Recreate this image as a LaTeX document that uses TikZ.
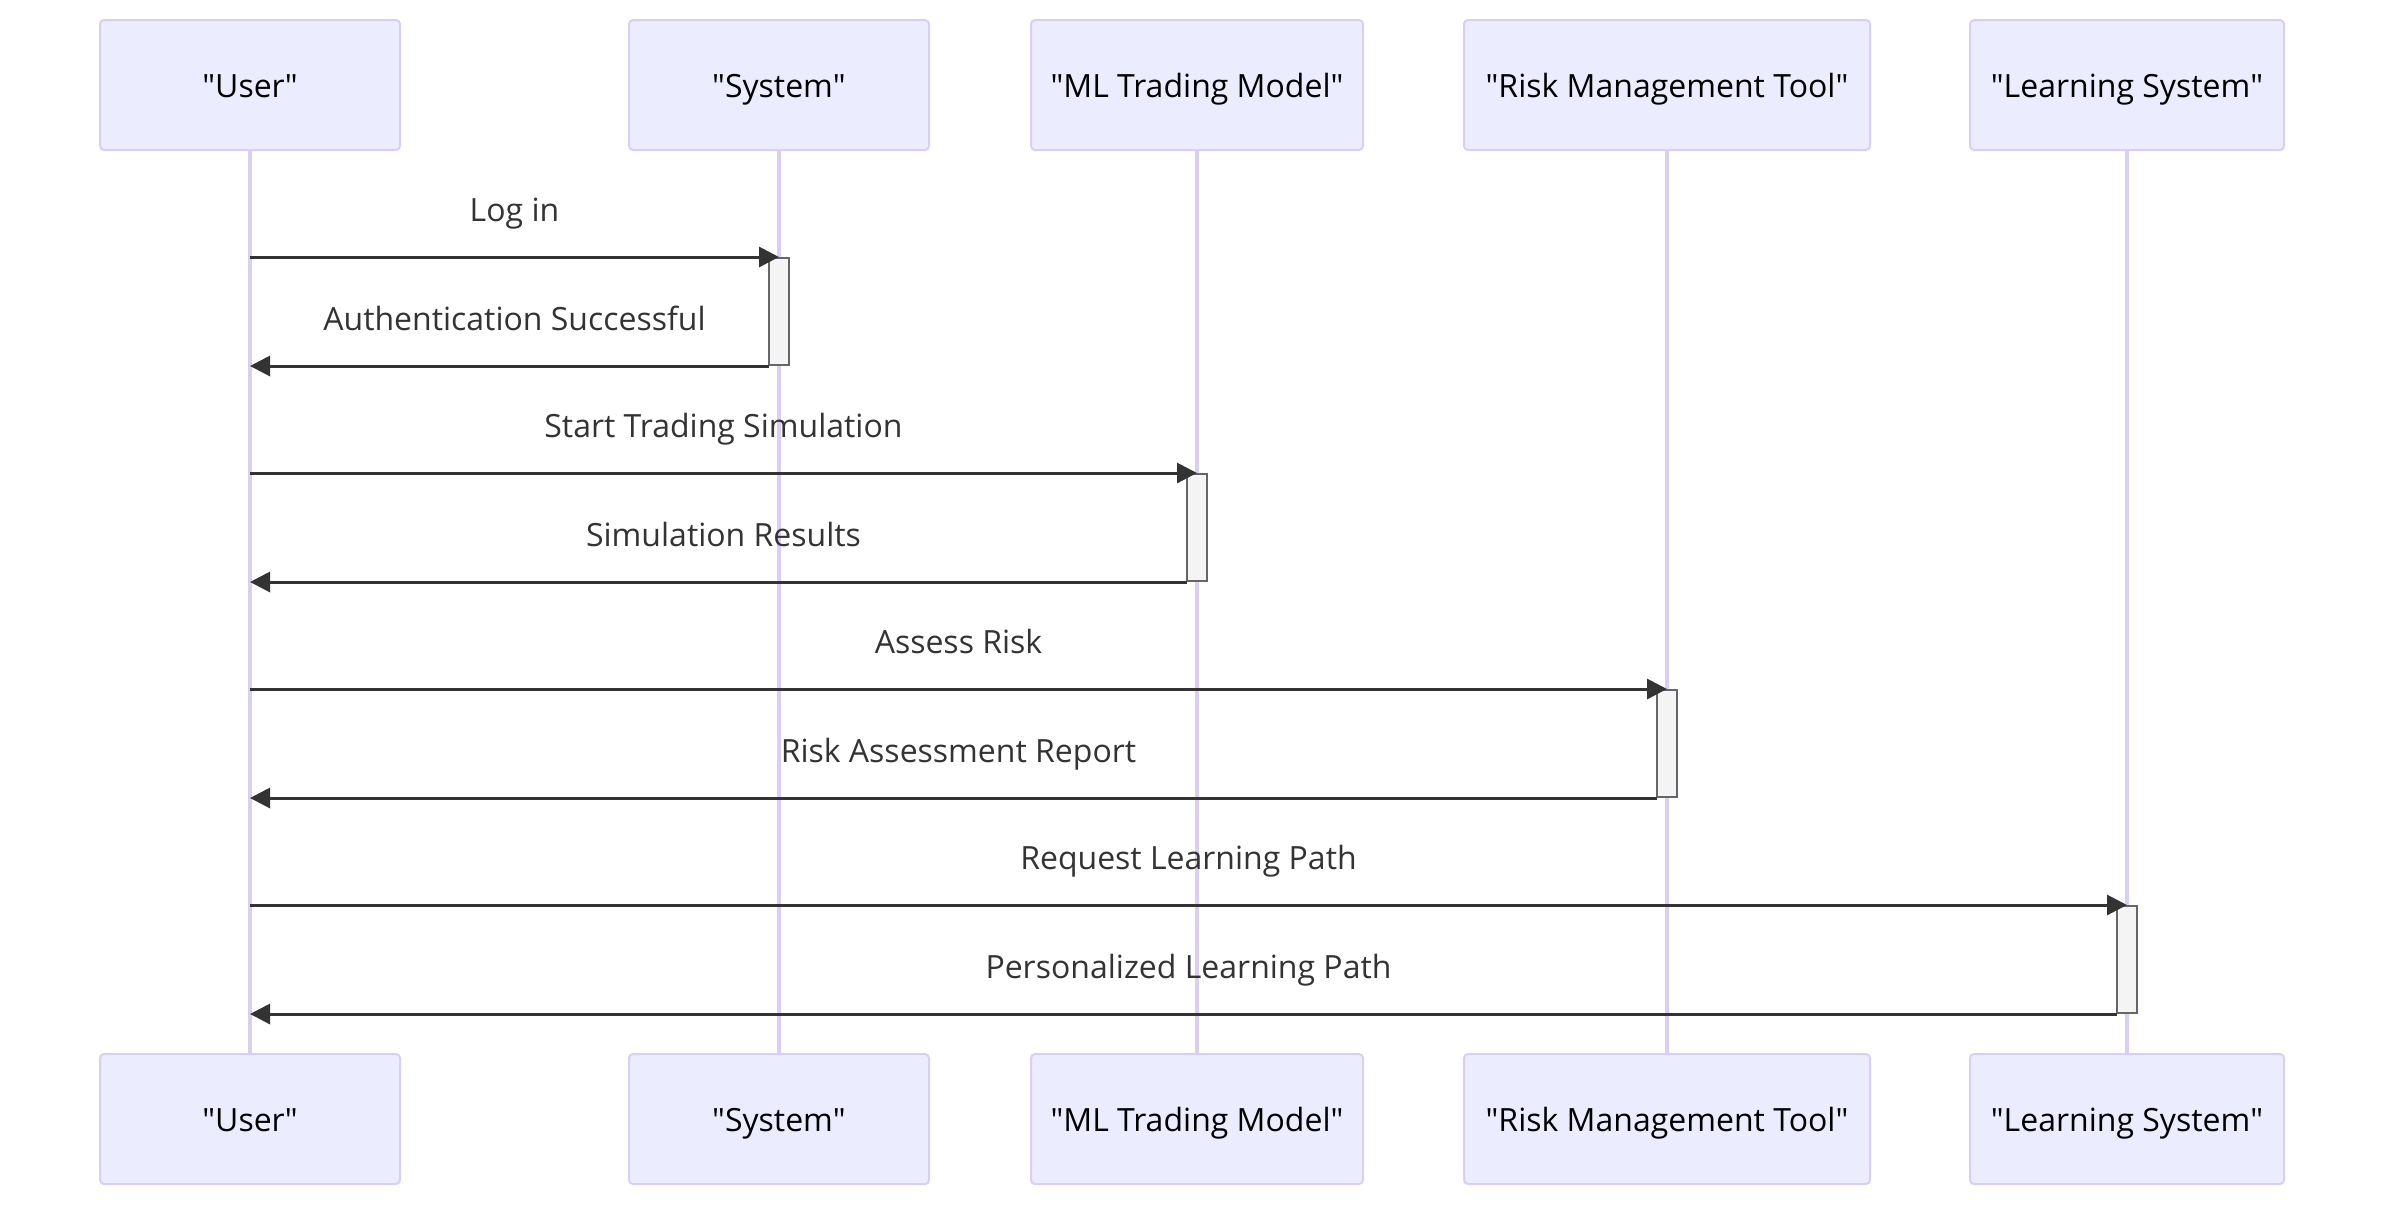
\documentclass[tikz,border=0pt]{standalone}
\usepackage{fontspec}
\setmainfont{Open Sans}
\usetikzlibrary{arrows.meta,positioning}
\definecolor{actfill}{HTML}{ECECFF}
\definecolor{actline}{HTML}{DACEF3}
\definecolor{msgcol}{HTML}{333333}
\definecolor{barfill}{HTML}{F4F4F4}
\definecolor{barline}{HTML}{666666}
\newcommand{\qname}[1]{\textquotedbl#1\textquotedbl}

\begin{document}
\begin{tikzpicture}[x=0.5pt, y=-0.5pt,
  actor/.style={draw=actline, fill=actfill, line width=1pt, rounded corners=2pt,
    minimum height=65pt, inner sep=0pt, text height=15pt, text depth=3pt,
    text=black, font=\fontsize{16}{19}\selectfont},
  life/.style={draw=actline, line width=2pt},
  bar/.style={draw=barline, fill=barfill, line width=1pt, minimum width=10pt, inner sep=0pt},
  msg/.style={draw=msgcol, line width=1.5pt, -{Triangle[length=10pt,width=10pt]}},
  reply/.style={msg, shorten <=5pt},
  lbl/.style={text=msgcol, font=\fontsize{16}{19}\selectfont, anchor=base, yshift=18pt}]
  \useasboundingbox (0,0) rectangle (2384,1206);

  % actors, top row
  \node[actor, minimum width=150pt] (user)  at (250,85)  {\qname{User}};
  \node[actor, minimum width=150pt] (sys)   at (779,85)  {\qname{System}};
  \node[actor, minimum width=166pt] (model) at (1197,85) {\qname{ML Trading Model}};
  \node[actor, minimum width=203pt] (risk)  at (1667,85) {\qname{Risk Management Tool}};
  \node[actor, minimum width=157pt] (learn) at (2127,85) {\qname{Learning System}};

  % actors, bottom row
  \node[actor, minimum width=150pt] (userB)  at (250,1119)  {\qname{User}};
  \node[actor, minimum width=150pt] (sysB)   at (779,1119)  {\qname{System}};
  \node[actor, minimum width=166pt] (modelB) at (1197,1119) {\qname{ML Trading Model}};
  \node[actor, minimum width=203pt] (riskB)  at (1667,1119) {\qname{Risk Management Tool}};
  \node[actor, minimum width=157pt] (learnB) at (2127,1119) {\qname{Learning System}};

  % lifelines
  \draw[life] (user.south)  -- (userB.north);
  \draw[life] (sys.south)   -- (sysB.north);
  \draw[life] (model.south) -- (modelB.north);
  \draw[life] (risk.south)  -- (riskB.north);
  \draw[life] (learn.south) -- (learnB.north);

  % activations
  \node[bar, minimum height=53.5pt] (act1) at (779,311.5)  {};
  \node[bar, minimum height=53.5pt] (act2) at (1197,527.5) {};
  \node[bar, minimum height=53.5pt] (act3) at (1667,743.5) {};
  \node[bar, minimum height=53.5pt] (act4) at (2127,959.5) {};

  % messages
  \draw[msg]   (user.south |- act1.north) -- (act1.north) node[lbl, midway] {Log in};
  \draw[reply] (act1.south) -- (user.south |- act1.south) node[lbl, midway] {Authentication Successful};
  \draw[msg]   (user.south |- act2.north) -- (act2.north) node[lbl, midway] {Start Trading Simulation};
  \draw[reply] (act2.south) -- (user.south |- act2.south) node[lbl, midway] {Simulation Results};
  \draw[msg]   (user.south |- act3.north) -- (act3.north) node[lbl, midway] {Assess Risk};
  \draw[reply] (act3.south) -- (user.south |- act3.south) node[lbl, midway] {Risk Assessment Report};
  \draw[msg]   (user.south |- act4.north) -- (act4.north) node[lbl, midway] {Request Learning Path};
  \draw[reply] (act4.south) -- (user.south |- act4.south) node[lbl, midway] {Personalized Learning Path};
\end{tikzpicture}
\end{document}
